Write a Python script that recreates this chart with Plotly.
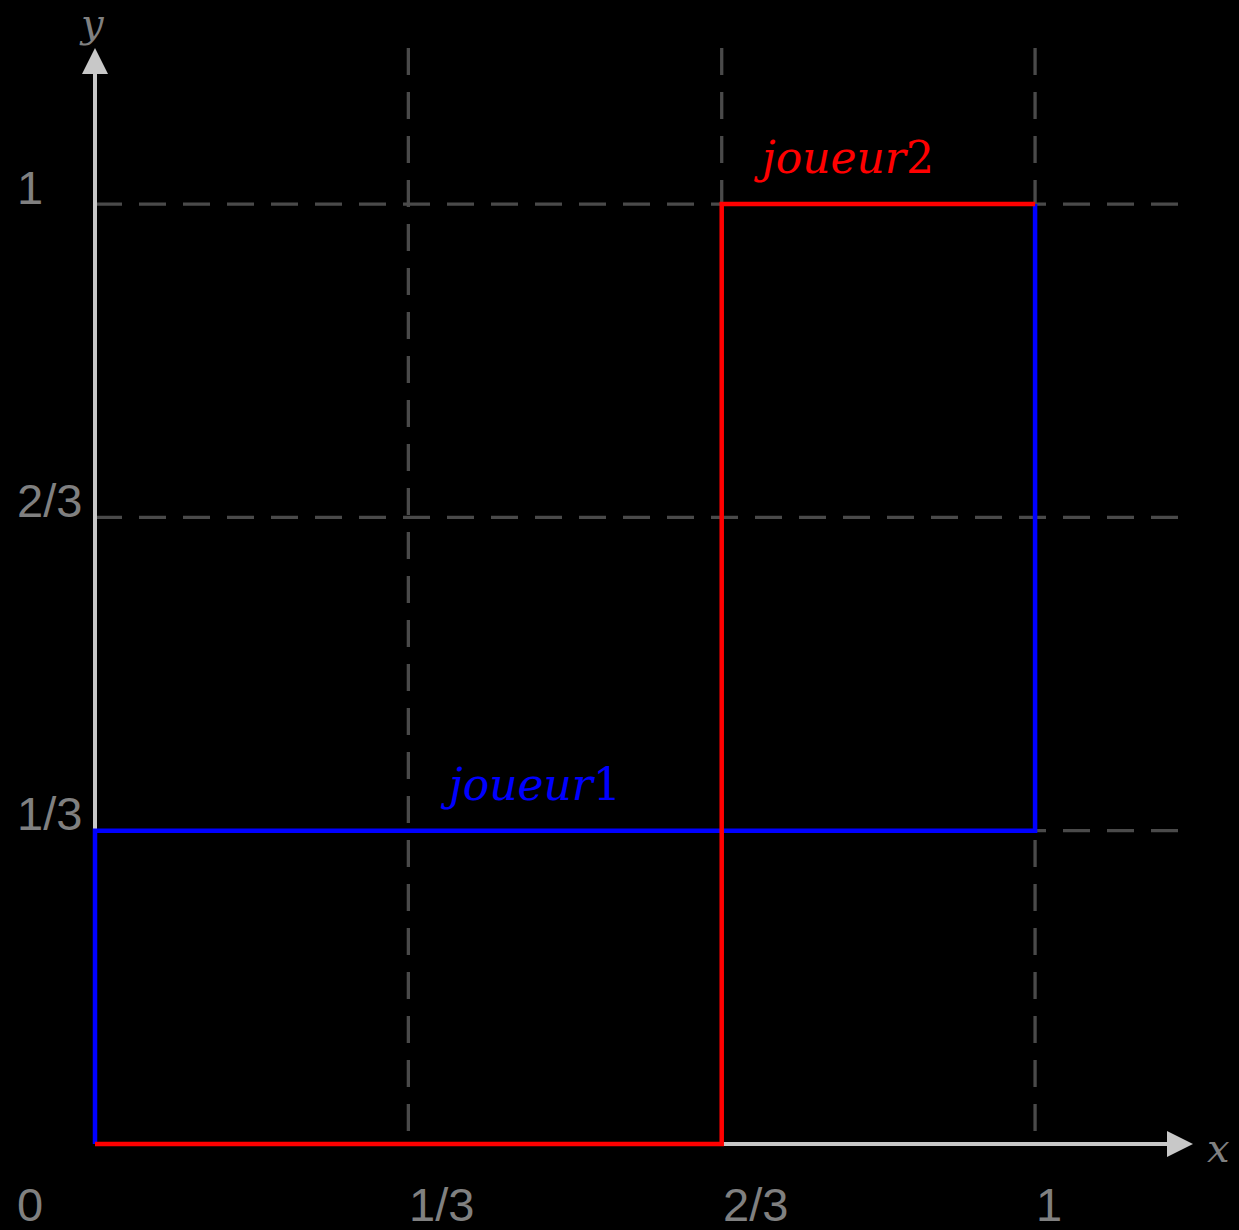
import plotly.graph_objects as go

# ---- data ----
tick_vals = [1/3, 2/3, 1]
tick_labels = ["1/3", "2/3", "1"]
origin_label = "0"

joueur1_x = [0, 0, 1, 1]
joueur1_y = [0, 1/3, 1/3, 1]
joueur2_x = [0, 2/3, 2/3, 1]
joueur2_y = [0, 0, 1, 1]

labels = {"joueur1": (0.463, 0.382), "joueur2": (0.796, 1.049)}

X_MAX = 1.168
Y_MAX = 1.166
PAD = 6 / 940  # small padding so lines on the axes are not clipped

GRID = "#4a4a4a"
AXIS = "#c8c8c8"
TXT = "#808080"
TICKFONT = dict(family="Liberation Sans, Arial, sans-serif", size=47, color=TXT)
SERIF = "DejaVu Serif, Liberation Serif, serif"

fig = go.Figure()

fig.add_trace(go.Scatter(x=joueur1_x, y=joueur1_y, mode="lines",
                         line=dict(color="#0000ff", width=4.5), hoverinfo="skip",
                         showlegend=False))
fig.add_trace(go.Scatter(x=joueur2_x, y=joueur2_y, mode="lines",
                         line=dict(color="#ff0000", width=4.5), hoverinfo="skip",
                         showlegend=False))

shapes = []
for v in tick_vals:
    shapes.append(dict(type="line", xref="x", yref="y", x0=v, x1=v, y0=Y_MAX, y1=0,
                       line=dict(color=GRID, width=3.3, dash="27px,17px"), layer="below"))
    shapes.append(dict(type="line", xref="x", yref="y", x0=0, x1=X_MAX, y0=v, y1=v,
                       line=dict(color=GRID, width=3.3, dash="27px,17px"), layer="below"))
# axis lines
shapes.append(dict(type="line", xref="x", yref="y", x0=0, x1=X_MAX - 0.01, y0=0, y1=0,
                   line=dict(color=AXIS, width=4), layer="below"))
shapes.append(dict(type="line", xref="x", yref="y", x0=0, x1=0, y0=0, y1=Y_MAX - 0.01,
                   line=dict(color=AXIS, width=4), layer="below"))

annotations = []
# arrow heads
annotations.append(dict(x=X_MAX, y=0, ax=X_MAX - 0.03, ay=0, xref="x", yref="y",
                        axref="x", ayref="y", showarrow=True, arrowhead=2,
                        arrowsize=1.3, arrowwidth=4, arrowcolor=AXIS, text=""))
annotations.append(dict(x=0, y=Y_MAX, ax=0, ay=Y_MAX - 0.03, xref="x", yref="y",
                        axref="x", ayref="y", showarrow=True, arrowhead=2,
                        arrowsize=1.3, arrowwidth=4, arrowcolor=AXIS, text=""))
# axis names
annotations.append(dict(x=X_MAX, y=0, xref="x", yref="y", text="<i>x</i>", showarrow=False,
                        xanchor="left", yanchor="middle", xshift=12, yshift=-4,
                        font=dict(family=SERIF, size=40, color=TXT)))
annotations.append(dict(x=0, y=Y_MAX, xref="x", yref="y", text="<i>y</i>", showarrow=False,
                        xanchor="center", yanchor="bottom", xshift=-3, yshift=0,
                        font=dict(family=SERIF, size=40, color=TXT)))
# tick labels
for v, t in zip(tick_vals, tick_labels):
    annotations.append(dict(x=v, y=0, xref="x", yref="y", text=t, showarrow=False,
                            xanchor="left", yanchor="middle", xshift=0, yshift=-60,
                            borderpad=0, font=TICKFONT))
    annotations.append(dict(x=0, y=v, xref="x", yref="y", text=t, showarrow=False,
                            xanchor="left", yanchor="middle", xshift=-79, yshift=17,
                            borderpad=0, font=TICKFONT))
annotations.append(dict(x=0, y=0, xref="x", yref="y", text=origin_label, showarrow=False,
                        xanchor="left", yanchor="middle", xshift=-79, yshift=-60,
                        borderpad=0, font=TICKFONT))
# series labels
annotations.append(dict(x=labels["joueur1"][0], y=labels["joueur1"][1], xref="x", yref="y",
                        text="<i>joueur</i>1", showarrow=False,
                        font=dict(family=SERIF, size=44, color="#0000ff")))
annotations.append(dict(x=labels["joueur2"][0], y=labels["joueur2"][1], xref="x", yref="y",
                        text="<i>joueur</i>2", showarrow=False,
                        font=dict(family=SERIF, size=44, color="#ff0000")))

fig.update_layout(
    width=1239, height=1230,
    margin=dict(l=89, r=46, t=48, b=80),
    paper_bgcolor="black", plot_bgcolor="black",
    xaxis=dict(range=[-PAD, X_MAX], visible=False, fixedrange=True),
    yaxis=dict(range=[-PAD, Y_MAX], visible=False, fixedrange=True),
    shapes=shapes, annotations=annotations, showlegend=False,
)

fig.write_html("out.html",
               post_script="document.body.style.margin='0';document.body.style.background='black';",
               config={"displayModeBar": False})
